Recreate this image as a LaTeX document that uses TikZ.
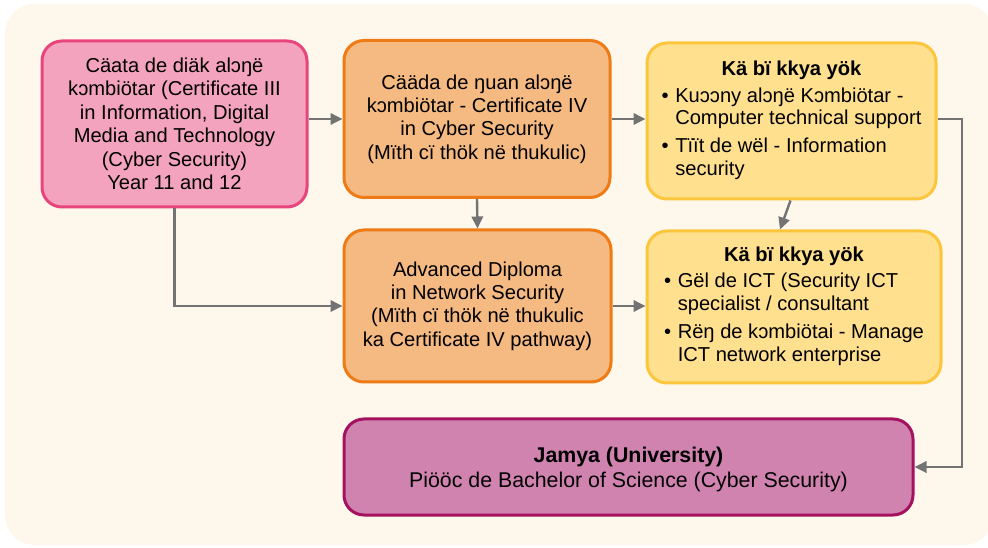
\documentclass[tikz,border=0pt]{standalone}
\usepackage{fontspec}
\setmainfont{Liberation Sans}
\usetikzlibrary{arrows.meta}
\definecolor{bgc}{HTML}{FEF7EB}
\definecolor{pinkfill}{HTML}{F4A3BE}
\definecolor{pinkdraw}{HTML}{E8457D}
\definecolor{orfill}{HTML}{F5B982}
\definecolor{ordraw}{HTML}{EE7B16}
\definecolor{yefill}{HTML}{FFE08F}
\definecolor{yedraw}{HTML}{FBC53C}
\definecolor{pufill}{HTML}{D183B0}
\definecolor{pudraw}{HTML}{A4125F}
\definecolor{arrc}{HTML}{737373}
\tikzset{
  box/.style={rounded corners=15pt, line width=2.25pt, align=center, inner sep=0pt,
    font=\fontsize{15.1}{17.6}\selectfont},
  pinkbox/.style={box, fill=pinkfill, draw=pinkdraw},
  orbox/.style={box, fill=orfill, draw=ordraw},
  yebox/.style={box, fill=yefill, draw=yedraw},
  pubox/.style={box, fill=pufill, draw=pudraw, font=\fontsize{16}{18.8}\selectfont},
  arr/.style={draw=arrc, line width=1.8pt, -{Triangle[length=9pt,width=8.5pt]}},
}
\begin{document}
\begin{tikzpicture}[x=0.75pt,y=-0.75pt]
\useasboundingbox (0,0) rectangle (988,548);
\fill[bgc, rounded corners=22.5pt] (5,4) rectangle (994,545);

\node[pinkbox, minimum width=198.75pt, minimum height=124.5pt] (b1) at (174.5,124)
  {Cäata de diäk alɔŋë\\ kɔmbiötar (Certificate III\\ in Information, Digital\\ Media and Technology\\ (Cyber Security)\\ Year 11 and 12};

\node[orbox, minimum width=199.5pt, minimum height=117.75pt] (b2) at (477,119)
  {Cääda de ŋuan alɔŋë\\ kɔmbiötar - Certificate IV\\ in Cyber Security\\ (Mïth cï thök në thukulic)};

\node[yebox, minimum width=216.75pt, minimum height=117pt] (b3) at (791.5,121)
  {\begin{tabular}{@{}l@{\hspace{5pt}}l@{}}
   \multicolumn{2}{c}{\bfseries Kä bï kkya yök}\\[2.5pt]
   \textbullet & Kuɔɔny alɔŋë Kɔmbiötar -\\[-1pt]
   & Computer technical support\\[3pt]
   \textbullet & Tïït de wël - Information\\
   & security
   \end{tabular}};

\node[orbox, minimum width=200.25pt, minimum height=114pt] (b4) at (477.5,306)
  {Advanced Diploma\\ in Network Security\\ (Mïth cï thök në thukulic\\ ka Certificate IV pathway)};

\node[yebox, minimum width=220.5pt, minimum height=114pt] (b5) at (794,307)
  {\begin{tabular}{@{}l@{\hspace{5pt}}l@{}}
   \multicolumn{2}{c}{\bfseries Kä bï kkya yök}\\[1.5pt]
   \textbullet & Gël de ICT (Security ICT\\
   & specialist / consultant\\[3pt]
   \textbullet & Rëŋ de kɔmbiötai - Manage\\
   & ICT network enterprise
   \end{tabular}};

\node[pubox, minimum width=426.75pt, minimum height=72pt] (b6) at (628.5,467)
  {\rule{0pt}{15pt}{\bfseries Jamya (University)}\\ Piööc de Bachelor of Science (Cyber Security)};

\coordinate (c1) at (962,119);
\draw[arr] (b1.east |- b2.west) -- (b2.west);
\draw[arr] (b2.east) -- (b2.east -| b3.west);
\draw[arr] (b2.south) -- (b4.north);
\draw[arr] ([xshift=-0.75pt]b3.south) -- ([xshift=-10.5pt]b5.north);
\draw[arr] (b1.south) |- (b4.west);
\draw[arr] (b4.east) -- (b4.east -| b5.west);
\draw[arr] (c1 -| b3.east) -- (c1) |- (b6.east);
\end{tikzpicture}
\end{document}
